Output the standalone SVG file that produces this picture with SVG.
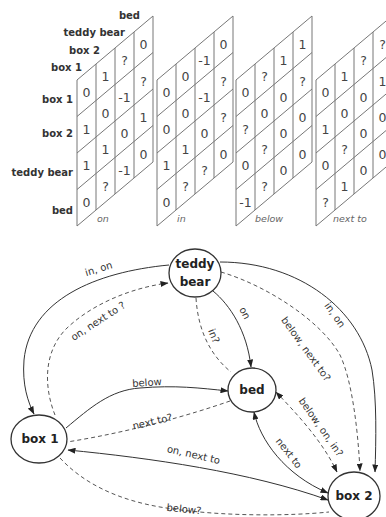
<svg xmlns="http://www.w3.org/2000/svg" xmlns:xlink="http://www.w3.org/1999/xlink" width="386" height="517" viewBox="0 0 386 517">
<style>
.grid{fill:none;stroke:#777;stroke-width:1}
.cv{font-family:"DejaVu Sans",sans-serif;font-size:12.5px;fill:#444;text-anchor:middle}
.lab{font-family:"DejaVu Sans",sans-serif;font-size:10px;font-weight:bold;fill:#333;text-anchor:end}
.ml{font-family:"DejaVu Sans",sans-serif;font-size:9.5px;font-style:italic;fill:#666}
.node ellipse{fill:#fff;stroke:#333;stroke-width:1.3}
.nt{font-family:"DejaVu Sans",sans-serif;font-size:12px;font-weight:bold;fill:#222;text-anchor:middle}
.e{fill:none;stroke:#333;stroke-width:1}
.d{stroke:#555;stroke-dasharray:4 3}
.a{marker-end:url(#ah)}
.b{marker-start:url(#ah);marker-end:url(#ah)}
.el{font-family:"DejaVu Sans",sans-serif;font-size:10px;fill:#333;text-anchor:middle}
</style>
<defs>
<marker id="ah" markerWidth="8" markerHeight="6" refX="7.5" refY="3" orient="auto-start-reverse" markerUnits="userSpaceOnUse">
<path d="M0,0 L8,3 L0,6 z" fill="#222"/>
</marker>
<path id="grid" class="grid" d="M0,80 v146 M19,64 v146 M38,48 v146 M57,32 v146 M76,16 v146 M0,80 l76,-64 M0,116.5 l76,-64 M0,153 l76,-64 M0,189.5 l76,-64 M0,226 l76,-64"/>
</defs>

<g id="matrix-labels">
<text class="lab" x="82" y="71">box 1</text>
<text class="lab" x="100" y="54">box 2</text>
<text class="lab" x="125" y="36">teddy bear</text>
<text class="lab" x="140" y="19">bed</text>
<text class="lab" x="73" y="103">box 1</text>
<text class="lab" x="73" y="137">box 2</text>
<text class="lab" x="73" y="176">teddy bear</text>
<text class="lab" x="73" y="214">bed</text>
</g>

<g id="matrix-on" transform="translate(77,0)">
<use xlink:href="#grid" href="#grid"/>
<text class="cv" x="9.5" y="97">0</text><text class="cv" x="28.5" y="81">1</text><text class="cv" x="47.5" y="65">?</text><text class="cv" x="66.5" y="49">0</text>
<text class="cv" x="9.5" y="133.5">1</text><text class="cv" x="28.5" y="117.5">0</text><text class="cv" x="47.5" y="101.5">-1</text><text class="cv" x="66.5" y="85.5">?</text>
<text class="cv" x="9.5" y="170">1</text><text class="cv" x="28.5" y="154">1</text><text class="cv" x="47.5" y="138">0</text><text class="cv" x="66.5" y="122">1</text>
<text class="cv" x="9.5" y="206.5">0</text><text class="cv" x="28.5" y="190.5">?</text><text class="cv" x="47.5" y="174.5">-1</text><text class="cv" x="66.5" y="158.5">0</text>
<text class="ml" x="20" y="222">on</text>
</g>

<g id="matrix-in" transform="translate(157,0)">
<use xlink:href="#grid" href="#grid"/>
<text class="cv" x="9.5" y="97">0</text><text class="cv" x="28.5" y="81">0</text><text class="cv" x="47.5" y="65">-1</text><text class="cv" x="66.5" y="49">0</text>
<text class="cv" x="9.5" y="133.5">0</text><text class="cv" x="28.5" y="117.5">0</text><text class="cv" x="47.5" y="101.5">-1</text><text class="cv" x="66.5" y="85.5">?</text>
<text class="cv" x="9.5" y="170">1</text><text class="cv" x="28.5" y="154">1</text><text class="cv" x="47.5" y="138">0</text><text class="cv" x="66.5" y="122">?</text>
<text class="cv" x="9.5" y="206.5">0</text><text class="cv" x="28.5" y="190.5">?</text><text class="cv" x="47.5" y="174.5">?</text><text class="cv" x="66.5" y="158.5">0</text>
<text class="ml" x="20" y="222">in</text>
</g>

<g id="matrix-below" transform="translate(236,0)">
<use xlink:href="#grid" href="#grid"/>
<text class="cv" x="9.5" y="97">0</text><text class="cv" x="28.5" y="81">?</text><text class="cv" x="47.5" y="65">1</text><text class="cv" x="66.5" y="49">1</text>
<text class="cv" x="9.5" y="133.5">?</text><text class="cv" x="28.5" y="117.5">0</text><text class="cv" x="47.5" y="101.5">0</text><text class="cv" x="66.5" y="85.5">?</text>
<text class="cv" x="9.5" y="170">0</text><text class="cv" x="28.5" y="154">?</text><text class="cv" x="47.5" y="138">0</text><text class="cv" x="66.5" y="122">0</text>
<text class="cv" x="9.5" y="206.5">-1</text><text class="cv" x="28.5" y="190.5">?</text><text class="cv" x="47.5" y="174.5">0</text><text class="cv" x="66.5" y="158.5">0</text>
<text class="ml" x="19" y="222">below</text>
</g>

<g id="matrix-next-to" transform="translate(316,0)">
<use xlink:href="#grid" href="#grid"/>
<text class="cv" x="9.5" y="97">0</text><text class="cv" x="28.5" y="81">1</text><text class="cv" x="47.5" y="65">?</text><text class="cv" x="66.5" y="49">?</text>
<text class="cv" x="9.5" y="133.5">1</text><text class="cv" x="28.5" y="117.5">0</text><text class="cv" x="47.5" y="101.5">0</text><text class="cv" x="66.5" y="85.5">1</text>
<text class="cv" x="9.5" y="170">0</text><text class="cv" x="28.5" y="154">?</text><text class="cv" x="47.5" y="138">0</text><text class="cv" x="66.5" y="122">0</text>
<text class="cv" x="9.5" y="206.5">?</text><text class="cv" x="28.5" y="190.5">1</text><text class="cv" x="47.5" y="174.5">0</text><text class="cv" x="66.5" y="158.5">0</text>
<text class="ml" x="17" y="222">next to</text>
</g>

<g id="connectors">
<path class="e a" d="M169,265 C95,272 30,300 24,360 C22,385 28,402 34,414"/>
<text class="el" transform="translate(100,273) rotate(-17)" y="-1">in, on</text>
<path class="e d a" d="M55,415 C45,390 42,355 65,330 C90,305 130,288 168,283"/>
<text class="el" transform="translate(98,321) rotate(-33)" y="3.5">on, next to ?</text>
<path class="e a" d="M213,291 C230,305 247,331 251,367"/>
<text class="el" transform="translate(245,313) rotate(62)" y="3.5">on</text>
<path class="e d" d="M196,298 C198,330 210,355 231,372"/>
<text class="el" transform="translate(214,336) rotate(68)" y="3.5">in?</text>
<path class="e d a" d="M221,272 C268,286 322,322 340,355 C352,380 358,430 360,471"/>
<text class="el" transform="translate(306,349) rotate(54)" y="3.5">below, next to?</text>
<path class="e a" d="M220,262 C300,262 360,310 372,370 C377,400 376,440 375,472"/>
<text class="el" transform="translate(335,315) rotate(55)" y="3.5">in, on</text>
<path class="e a" d="M66,428 C90,408 110,390 140,388 C175,385 200,388 228,391"/>
<text class="el" transform="translate(147,384) rotate(-4)" y="2">below</text>
<path class="e d" d="M230,401 C190,415 130,432 67,442"/>
<text class="el" transform="translate(153,424) rotate(-13)" y="1">next to?</text>
<path class="e b" d="M68,450 C150,458 250,472 328,500"/>
<text class="el" transform="translate(193,457) rotate(13)" y="1">on, next to</text>
<path class="e d" d="M60,458 C85,485 120,500 160,507 C220,517 290,516 329,512"/>
<text class="el" transform="translate(184,509) rotate(6)" y="3.5">below?</text>
<path class="e d b" d="M276,392 C295,412 322,440 337,472"/>
<text class="el" transform="translate(321,427) rotate(55)" y="3.5">below, on, in?</text>
<path class="e b" d="M254,412 C260,440 285,475 328,493"/>
<text class="el" transform="translate(289,453) rotate(52)" y="3.5">next to</text>
</g>

<g id="node-teddy-bear" class="node">
<ellipse cx="195" cy="273" rx="26" ry="24"/>
<text class="nt" x="195" y="268">teddy</text>
<text class="nt" x="195" y="286">bear</text>
</g>
<g id="node-bed" class="node">
<ellipse cx="252" cy="390" rx="24" ry="22"/>
<text class="nt" x="252" y="394">bed</text>
</g>
<g id="node-box1" class="node">
<ellipse cx="39" cy="439" rx="28" ry="24"/>
<text class="nt" x="40" y="443">box 1</text>
</g>
<g id="node-box2" class="node">
<ellipse cx="354" cy="496" rx="26" ry="24"/>
<text class="nt" x="354" y="500">box 2</text>
</g>
</svg>
